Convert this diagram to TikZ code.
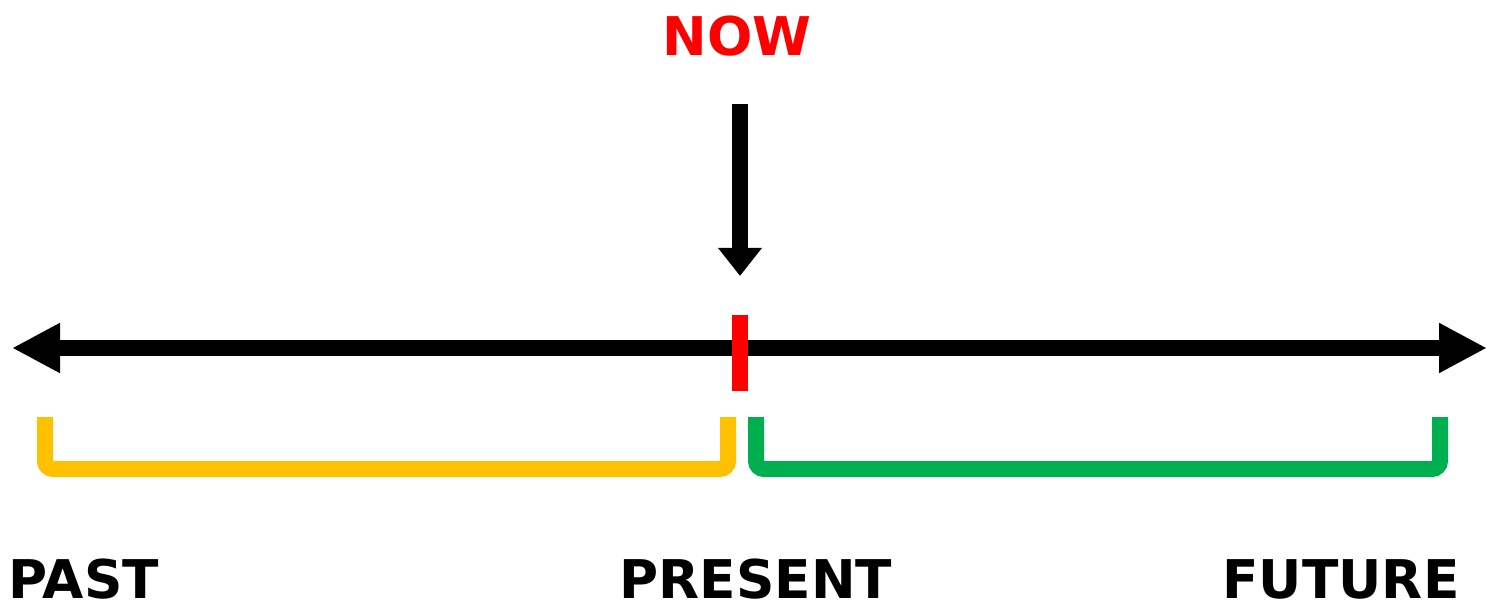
\documentclass[tikz,border=0pt]{standalone}
\usepackage{fontspec}
\setmainfont{DejaVu Sans}
\usetikzlibrary{arrows.meta}

\definecolor{nowred}{RGB}{255,0,0}
\definecolor{pastyellow}{RGB}{255,192,0}
\definecolor{futuregreen}{RGB}{0,176,80}

\tikzset{
  every picture/.style={line width=0.75pt},
  axisline/.style={line width=11.5pt, -{Triangle[length=36pt,width=35pt]}},
  bracketline/.style={line width=12pt, rounded corners=6pt, line cap=butt},
  label/.style={inner sep=0pt, font=\bfseries\fontsize{40}{42}\selectfont},
}

\begin{document}
\begin{tikzpicture}[x=0.75pt,y=0.75pt,yscale=-1,xscale=1]
\useasboundingbox (0,0) rectangle (1494,609);

% Coordinates
\coordinate (leftend) at (12,348);
\coordinate (rightend) at (1487,348);
\coordinate (mid) at (740,348);
\coordinate (nowtop) at (740,104);
\coordinate (nowtip) at (740,276);

%Straight Lines [id:axis]
\draw [axisline] (mid) -- (leftend);
\draw [axisline] (mid) -- (rightend);

%Straight Lines [id:tick]
\draw [nowred, line width=12pt] (740,315) -- (740,391);

%Straight Lines [id:nowarrow]
\draw [line width=12pt, -{Triangle[length=21pt,width=31.5pt]}] (nowtop) -- (nowtip);

%Shape: Bracket [id:past]
\draw [bracketline, pastyellow] (45,417) -- (45,469) -- (728,469) -- (728,417);
%Shape: Bracket [id:future]
\draw [bracketline, futuregreen] (756,417) -- (756,469) -- (1440,469) -- (1440,417);

% Text Node
\node [label, nowred, anchor=base] (now) at (737,56) {NOW};
% Text Node
\node [label, anchor=base west] (past) at (8,598) {PAST};
% Text Node
\node [label, anchor=base] (present) at (756,598) {PRESENT};
% Text Node
\node [label, anchor=base] (future) at (1341,598) {FUTURE};

\end{tikzpicture}
\end{document}
